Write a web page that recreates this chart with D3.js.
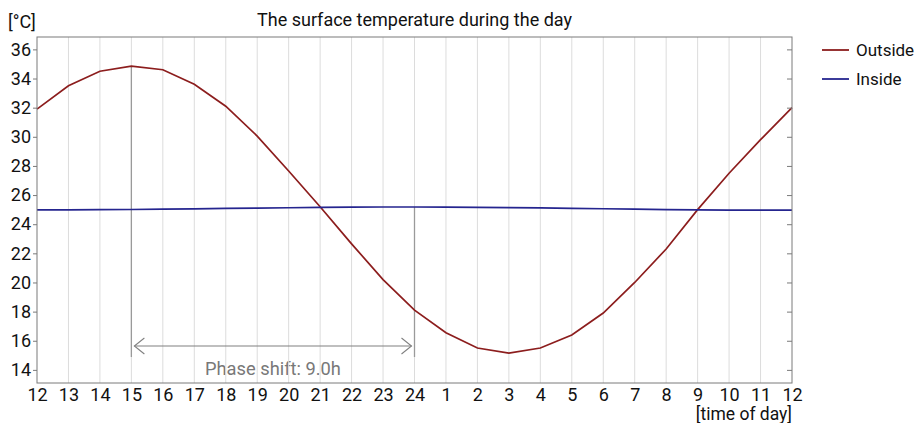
<!DOCTYPE html>
<html>
<head>
<meta charset="utf-8">
<script src="https://cdn.jsdelivr.net/npm/d3@7"></script>
<style>
  body { margin: 0; background: #fff; }
  svg { display: block; font-family: Roboto, "Noto Sans", sans-serif; }
</style>
</head>
<body>
<svg id="chart" width="921" height="423"></svg>
<script>
// Hours along the x axis, starting at noon and running through the next noon
const hourLabels = [12, 13, 14, 15, 16, 17, 18, 19, 20, 21, 22, 23, 24,
                    1, 2, 3, 4, 5, 6, 7, 8, 9, 10, 11, 12];
const outsideTemp = [31.9, 33.5, 34.5, 34.85, 34.6, 33.6, 32.1, 30.05, 27.65, 25.2,
                     22.65, 20.2, 18.1, 16.55, 15.5, 15.15, 15.5, 16.4, 17.9, 20.0,
                     22.3, 25.0, 27.5, 29.8, 32.0];
const insideTemp = [24.98, 24.99, 25.0, 25.01, 25.03, 25.05, 25.08, 25.1, 25.13, 25.15,
                    25.17, 25.18, 25.18, 25.17, 25.16, 25.14, 25.12, 25.09, 25.06, 25.03,
                    25.0, 24.98, 24.97, 24.96, 24.97];
const yTicks = [14, 16, 18, 20, 22, 24, 26, 28, 30, 32, 34, 36];
const series = [
  { name: "Outside", values: outsideTemp, color: "#8c1d1d" },
  { name: "Inside", values: insideTemp, color: "#25258f" }
];
const phaseFrom = 3;   // index of outside maximum (15h)
const phaseTo = 12;    // index of inside maximum (24h)
const phaseLabel = "Phase shift: 9.0h";

const svg = d3.select("#chart");
const m = { left: 37, right: 129, top: 37, bottom: 40 };
const W = 921, H = 423;
const iw = W - m.left - m.right, ih = H - m.top - m.bottom;

const x = d3.scaleLinear().domain([0, hourLabels.length - 1]).range([m.left, m.left + iw]);
const y = d3.scaleLinear().domain([13.1, 36.85]).range([m.top + ih, m.top]);

const g = svg.append("g");

// Phase shift label sits beneath the grid
const ax0 = x(phaseFrom), ax1 = x(phaseTo), ay = 346;
g.append("text")
  .attr("x", (ax0 + ax1) / 2).attr("y", 375)
  .attr("text-anchor", "middle")
  .attr("font-size", 18.3).attr("fill", "#787878")
  .text(phaseLabel);

// vertical hour grid
g.append("g").selectAll("line").data(d3.range(1, hourLabels.length - 1)).join("line")
  .attr("x1", d => x(d)).attr("x2", d => x(d))
  .attr("y1", m.top).attr("y2", m.top + ih)
  .attr("stroke", "#dcdcdc").attr("stroke-width", 1);

// markers at the two maxima
const markBottom = 357;
g.append("line").attr("x1", ax0).attr("x2", ax0)
  .attr("y1", y(outsideTemp[phaseFrom])).attr("y2", markBottom)
  .attr("stroke", "#9a9a9a").attr("stroke-width", 1.3);
g.append("line").attr("x1", ax1).attr("x2", ax1)
  .attr("y1", y(insideTemp[phaseTo])).attr("y2", markBottom)
  .attr("stroke", "#9a9a9a").attr("stroke-width", 1.3);

// double-headed arrow
const arrowG = g.append("g").attr("stroke", "#808080").attr("fill", "none").attr("stroke-width", 1.1);
arrowG.append("line").attr("x1", ax0 + 3).attr("x2", ax1 - 3).attr("y1", ay).attr("y2", ay);
arrowG.append("path").attr("d", `M${ax0 + 13},${ay - 8} L${ax0 + 3},${ay} L${ax0 + 13},${ay + 8}`);
arrowG.append("path").attr("d", `M${ax1 - 13},${ay - 8} L${ax1 - 3},${ay} L${ax1 - 13},${ay + 8}`);

// curves
const line = d3.line().x((d, i) => x(i)).y(d => y(d));
g.append("g").selectAll("path").data(series).join("path")
  .attr("d", d => line(d.values))
  .attr("fill", "none").attr("stroke", d => d.color).attr("stroke-width", 1.7);

// frame
g.append("rect").attr("x", m.left).attr("y", m.top).attr("width", iw).attr("height", ih)
  .attr("fill", "none").attr("stroke", "#7a7a7a").attr("stroke-width", 1);

// left axis with outward ticks
const yAxis = d3.axisLeft(y).tickValues(yTicks).tickSize(4).tickPadding(2);
const ya = svg.append("g").attr("transform", `translate(${m.left},0)`).call(yAxis);
ya.select(".domain").remove();
ya.selectAll("line").attr("stroke", "#7a7a7a");
ya.selectAll("text").attr("font-size", 18).attr("fill", "#111").attr("font-family", "Roboto");

// mirrored inward ticks on the right
const yr = svg.append("g").attr("transform", `translate(${m.left + iw},0)`).call(d3.axisLeft(y).tickValues(yTicks).tickSize(5).tickFormat(""));
yr.select(".domain").remove();
yr.selectAll("line").attr("stroke", "#7a7a7a");

// bottom axis
const xAxis = d3.axisBottom(x).tickValues(d3.range(hourLabels.length))
  .tickFormat(i => hourLabels[i]).tickSize(0).tickPadding(5);
const xa = svg.append("g").attr("transform", `translate(0,${m.top + ih})`).call(xAxis);
xa.select(".domain").remove();
xa.selectAll("text").attr("font-size", 18).attr("fill", "#111").attr("font-family", "Roboto");

// titles
svg.append("text").attr("x", m.left + iw / 2).attr("y", 26).attr("text-anchor", "middle")
  .attr("font-size", 18).attr("fill", "#111").text("The surface temperature during the day");
svg.append("text").attr("x", 8).attr("y", 28).attr("font-size", 18).attr("fill", "#111").text("[°C]");
svg.append("text").attr("x", m.left + iw).attr("y", 420).attr("text-anchor", "end")
  .attr("font-size", 17.5).attr("fill", "#111").text("[time of day]");

// legend
const lg = svg.append("g").selectAll("g").data(series).join("g")
  .attr("transform", (d, i) => `translate(822,${50 + i * 29})`);
lg.append("line").attr("x1", 0).attr("x2", 27).attr("stroke", d => d.color).attr("stroke-width", 1.8);
lg.append("text").attr("x", 34).attr("y", 6).attr("font-size", 17).attr("fill", "#111").text(d => d.name);
</script>
</body>
</html>
